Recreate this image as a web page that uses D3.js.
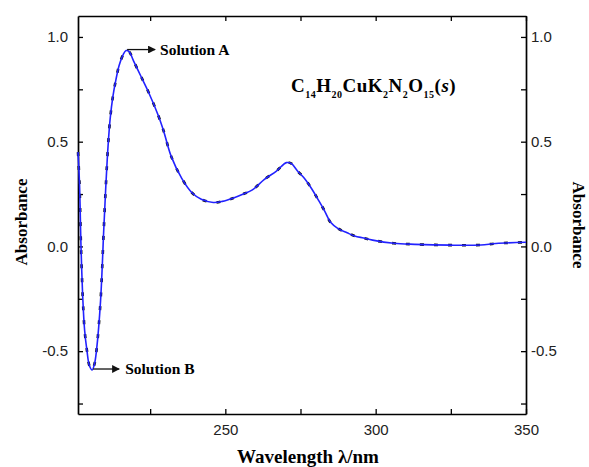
<!DOCTYPE html>
<html>
<head>
<meta charset="utf-8">
<script src="https://cdn.jsdelivr.net/npm/d3@7"></script>
<style>
  body { margin: 0; background: #fff; }
  svg { display: block; }
</style>
</head>
<body>
<script>
// wavelength (nm) and absorbance
const wavelength = [201, 201.5, 202, 202.6, 203.2, 204, 204.8, 205.7, 206.5, 207.2, 208.5, 209.6, 210.3, 211, 211.7, 212.6, 213.6, 214.7, 216, 217, 218, 219.5, 222, 224.5, 227.7, 229.5, 232, 235.5, 239, 242, 246, 249, 252.5, 256, 259, 263, 267, 270.3, 272, 274, 276, 278.5, 281, 283, 285, 287.5, 290.5, 293, 296, 299, 306, 313, 325, 335, 340, 350];
const absorbance = [0.45, 0.30, 0.0, -0.25, -0.40, -0.50, -0.57, -0.59, -0.56, -0.49, -0.26, 0.09, 0.30, 0.48, 0.61, 0.715, 0.795, 0.865, 0.915, 0.935, 0.93, 0.885, 0.81, 0.735, 0.625, 0.55, 0.43, 0.325, 0.255, 0.225, 0.21, 0.215, 0.23, 0.25, 0.27, 0.32, 0.36, 0.40, 0.395, 0.36, 0.33, 0.28, 0.22, 0.17, 0.115, 0.085, 0.065, 0.05, 0.04, 0.03, 0.015, 0.01, 0.006, 0.007, 0.014, 0.02];

const xTicks = [250, 300, 350];
const xMinor = [225, 275, 325];
const yTicks = [-0.5, 0.0, 0.5, 1.0];
const yMinor = [-0.75, -0.25, 0.25, 0.75];

const data = wavelength.map((w, i) => ({ w: w, a: absorbance[i] }));

const W = 589, H = 467;
const margin = { top: 16, right: 63, bottom: 53, left: 78 };

const svg = d3.select('body').append('svg')
  .attr('width', W)
  .attr('height', H);

const x = d3.scaleLinear().domain([201, 350]).range([margin.left, W - margin.right]);
const y = d3.scaleLinear().domain([-0.8, 1.1]).range([H - margin.bottom, margin.top]);

// plain hyphen for negatives, like the original
const fmt = d => d3.format('.1f')(d).replace('−', '-');
const sans = 'Liberation Sans, Arial, sans-serif';
const serif = 'Liberation Serif, Times New Roman, serif';

// axes, ticks point inwards
function styleAxis(g) {
  g.select('.domain').attr('stroke-width', 1.7);
  g.selectAll('.tick line').attr('stroke-width', 1.3);
  g.selectAll('.tick text').style('font-family', sans).style('font-size', '15px').attr('fill', '#222');
}

const axisB = svg.append('g')
  .attr('transform', `translate(0,${y.range()[0]})`)
  .call(d3.axisBottom(x).tickValues(xTicks.concat(xMinor)).tickSizeInner(-5).tickSizeOuter(0)
    .tickPadding(10).tickFormat(d => xTicks.includes(d) ? d : ''));
styleAxis(axisB);

const axisT = svg.append('g')
  .attr('transform', `translate(0,${y.range()[1]})`)
  .call(d3.axisTop(x).tickValues(xTicks.concat(xMinor)).tickSizeInner(-5).tickSizeOuter(0).tickFormat(''));
styleAxis(axisT);

const axisL = svg.append('g')
  .attr('transform', `translate(${x.range()[0]},0)`)
  .call(d3.axisLeft(y).tickValues(yTicks.concat(yMinor)).tickSizeInner(-5).tickSizeOuter(0)
    .tickPadding(10).tickFormat(d => yTicks.includes(d) ? fmt(d) : ''));
styleAxis(axisL);

const axisR = svg.append('g')
  .attr('transform', `translate(${x.range()[1]},0)`)
  .call(d3.axisRight(y).tickValues(yTicks.concat(yMinor)).tickSizeInner(-5).tickSizeOuter(0)
    .tickPadding(5).tickFormat(d => yTicks.includes(d) ? fmt(d) : ''));
styleAxis(axisR);

// the spectrum: black dashed trace under a blue trace
const line = d3.line().x(d => x(d.w)).y(d => y(d.a)).curve(d3.curveCatmullRom.alpha(0.5));

svg.append('path')
  .datum(data)
  .attr('d', line)
  .attr('fill', 'none')
  .attr('stroke', '#111')
  .attr('stroke-width', 2.6)
  .attr('stroke-dasharray', '4,10');

svg.append('path')
  .datum(data)
  .attr('d', line)
  .attr('fill', 'none')
  .attr('stroke', '#2222ff')
  .attr('stroke-width', 1.6);

// arrows for the annotations
svg.append('defs').append('marker')
  .attr('id', 'arrow')
  .attr('viewBox', '0 0 10 10')
  .attr('refX', 9).attr('refY', 5)
  .attr('markerWidth', 7).attr('markerHeight', 6)
  .attr('orient', 'auto')
  .append('path')
  .attr('d', 'M0,0 L10,5 L0,10 z')
  .attr('fill', '#111');

const peak = data[d3.maxIndex(data, d => d.a)];
const dip = data[d3.minIndex(data, d => d.a)];

svg.append('line')
  .attr('x1', x(peak.w) + 1).attr('y1', y(peak.a) - 1)
  .attr('x2', x(peak.w) + 29).attr('y2', y(peak.a) - 1)
  .attr('stroke', '#111').attr('stroke-width', 1.3)
  .attr('marker-end', 'url(#arrow)');

svg.append('text')
  .attr('x', x(peak.w) + 34).attr('y', y(peak.a) + 4)
  .style('font-family', serif).style('font-size', '15.5px').style('font-weight', 'bold')
  .text('Solution A');

svg.append('line')
  .attr('x1', x(dip.w) + 1).attr('y1', y(dip.a) - 1)
  .attr('x2', x(dip.w) + 27).attr('y2', y(dip.a) - 1)
  .attr('stroke', '#111').attr('stroke-width', 1.3)
  .attr('marker-end', 'url(#arrow)');

svg.append('text')
  .attr('x', x(dip.w) + 33).attr('y', y(dip.a) + 4)
  .style('font-family', serif).style('font-size', '15.5px').style('font-weight', 'bold')
  .text('Solution B');

// formula with subscripts
const formula = svg.append('text')
  .attr('x', 291).attr('y', 92)
  .style('font-family', serif).style('font-size', '19px').style('font-weight', 'bold')
  .attr('letter-spacing', '0.5');
const parts = [['C', 0], ['14', 1], ['H', 0], ['20', 1], ['CuK', 0], ['2', 1], ['N', 0], ['2', 1], ['O', 0], ['15', 1], ['(', 0], ['s', 2], [')', 0]];
let prevSub = false;
parts.forEach(([t, k]) => {
  const ts = formula.append('tspan').text(t);
  if (k === 1) {
    ts.attr('dy', prevSub ? 0 : 6).style('font-size', '10px');
    prevSub = true;
  } else {
    if (prevSub) ts.attr('dy', -6);
    prevSub = false;
    if (k === 2) ts.style('font-style', 'italic');
  }
});

// axis titles
svg.append('text')
  .attr('transform', `translate(27,222) rotate(-90)`)
  .attr('text-anchor', 'middle')
  .style('font-family', serif).style('font-size', '17px').style('font-weight', 'bold')
  .text('Absorbance');

svg.append('text')
  .attr('transform', `translate(573,225) rotate(90)`)
  .attr('text-anchor', 'middle')
  .style('font-family', serif).style('font-size', '17px').style('font-weight', 'bold')
  .text('Absorbance');

svg.append('text')
  .attr('x', 308).attr('y', 463)
  .attr('text-anchor', 'middle')
  .style('font-family', serif).style('font-size', '19px').style('font-weight', 'bold')
  .text('Wavelength λ/nm');
</script>
</body>
</html>
